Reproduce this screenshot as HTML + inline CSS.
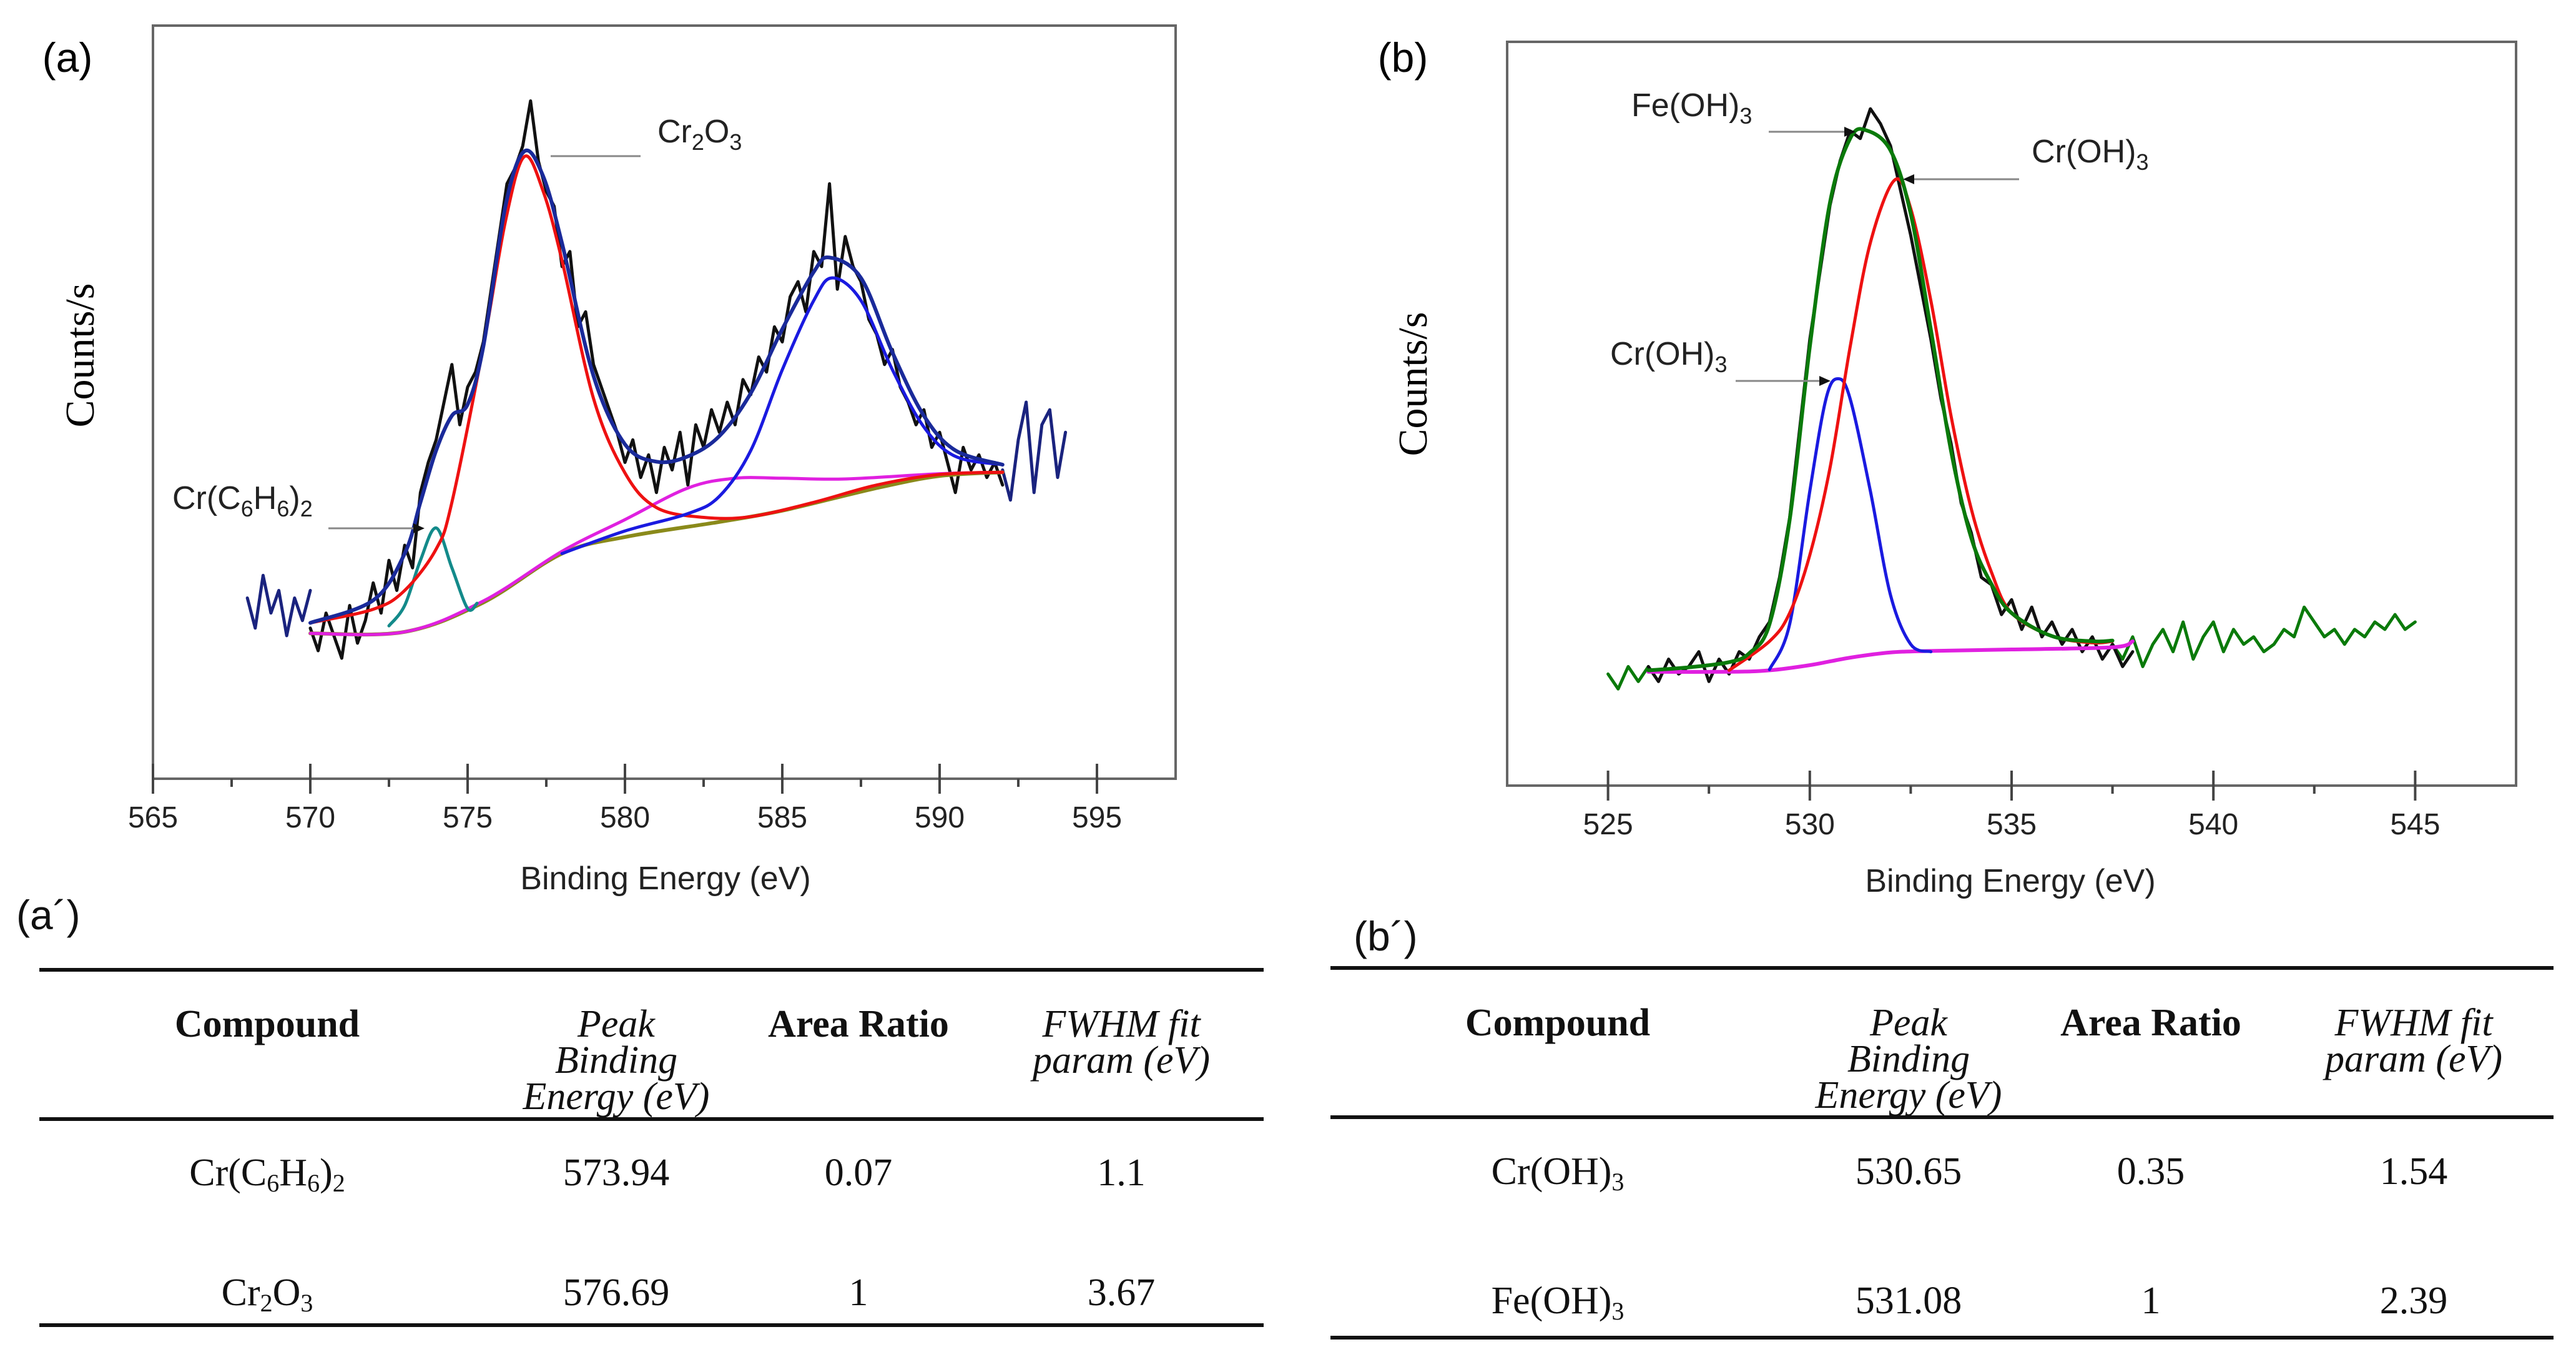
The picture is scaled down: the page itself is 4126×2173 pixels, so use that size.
<!DOCTYPE html>
<html><head><meta charset="utf-8">
<style>
html,body{margin:0;padding:0;background:#fff;}
svg{display:block;}
.sans{font-family:"Liberation Sans",sans-serif;}
.serif{font-family:"Liberation Serif",serif;}
</style></head>
<body>
<svg id="fig" width="4126" height="2173" viewBox="0 0 4126 2173" xmlns="http://www.w3.org/2000/svg">
<g id="layer"></g>
<text x="108" y="115" class="sans" font-size="66" text-anchor="middle">(a)</text>
<text x="2247" y="115" class="sans" font-size="66" text-anchor="middle">(b)</text>
<text transform="translate(150,569) rotate(-90)" class="serif" font-size="66" text-anchor="middle">Counts/s</text>
<text transform="translate(2285,615) rotate(-90)" class="serif" font-size="66" text-anchor="middle">Counts/s</text>
<text x="1066" y="1424" class="sans" font-size="52" text-anchor="middle" fill="#222">Binding Energy (eV)</text>
<text x="3220" y="1428" class="sans" font-size="52" text-anchor="middle" fill="#222">Binding Energy (eV)</text>

<g>
<line x1="882" y1="250" x2="1026" y2="250" stroke="#888" stroke-width="3"/>
<text x="1053" y="228" class="sans" font-size="52" fill="#222">Cr<tspan font-size="36" dy="12">2</tspan><tspan dy="-12">O</tspan><tspan font-size="36" dy="12">3</tspan></text>
</g>
<g>
<line x1="526" y1="846" x2="668" y2="846" stroke="#888" stroke-width="3"/>
<polygon points="680,846 662,838 662,854" fill="#111"/>
<text x="276" y="815" class="sans" font-size="52" fill="#222">Cr(C<tspan font-size="36" dy="12">6</tspan><tspan dy="-12">H</tspan><tspan font-size="36" dy="12">6</tspan><tspan dy="-12">)</tspan><tspan font-size="36" dy="12">2</tspan></text>
</g>
<g>
<line x1="2833" y1="211" x2="2960" y2="211" stroke="#888" stroke-width="3"/>
<polygon points="2972,211 2954,203 2954,219" fill="#111"/>
<text x="2613" y="186" class="sans" font-size="52" fill="#222">Fe(OH)<tspan font-size="36" dy="12">3</tspan></text>
</g>
<g>
<line x1="3062" y1="287" x2="3234" y2="287" stroke="#888" stroke-width="3"/>
<polygon points="3048,287 3066,279 3066,295" fill="#111"/>
<text x="3254" y="260" class="sans" font-size="52" fill="#222">Cr(OH)<tspan font-size="36" dy="12">3</tspan></text>
</g>
<g>
<line x1="2780" y1="610" x2="2920" y2="610" stroke="#888" stroke-width="3"/>
<polygon points="2932,610 2914,602 2914,618" fill="#111"/>
<text x="2579" y="584" class="sans" font-size="52" fill="#222">Cr(OH)<tspan font-size="36" dy="12">3</tspan></text>
</g>

<g class="serif" fill="#111">
<text x="26" y="1488" class="sans" font-size="66">(a´)</text>
<rect x="63" y="1550" width="1961" height="6" fill="#111"/>
<rect x="63" y="1789" width="1961" height="6" fill="#111"/>
<rect x="63" y="2119" width="1961" height="6" fill="#111"/>
<g font-size="62" text-anchor="middle">
<text x="428" y="1660" font-weight="bold">Compound</text>
<text x="987" y="1660" font-style="italic">Peak</text>
<text x="987" y="1718" font-style="italic">Binding</text>
<text x="987" y="1776" font-style="italic">Energy (eV)</text>
<text x="1375" y="1660" font-weight="bold">Area Ratio</text>
<text x="1796" y="1660" font-style="italic">FWHM fit</text>
<text x="1796" y="1718" font-style="italic">param (eV)</text>
<text x="428" y="1898">Cr(C<tspan font-size="40" dy="10">6</tspan><tspan dy="-10">H</tspan><tspan font-size="40" dy="10">6</tspan><tspan dy="-10">)</tspan><tspan font-size="40" dy="10">2</tspan></text>
<text x="987" y="1898">573.94</text><text x="1375" y="1898">0.07</text><text x="1796" y="1898">1.1</text>
<text x="428" y="2090">Cr<tspan font-size="40" dy="10">2</tspan><tspan dy="-10">O</tspan><tspan font-size="40" dy="10">3</tspan></text>
<text x="987" y="2090">576.69</text><text x="1375" y="2090">1</text><text x="1796" y="2090">3.67</text>
</g></g>
<g class="serif" fill="#111">
<text x="2168" y="1522" class="sans" font-size="66">(b´)</text>
<rect x="2131" y="1547" width="1959" height="6" fill="#111"/>
<rect x="2131" y="1786" width="1959" height="6" fill="#111"/>
<rect x="2131" y="2139" width="1959" height="6" fill="#111"/>
<g font-size="62" text-anchor="middle">
<text x="2495" y="1658" font-weight="bold">Compound</text>
<text x="3057" y="1658" font-style="italic">Peak</text>
<text x="3057" y="1716" font-style="italic">Binding</text>
<text x="3057" y="1774" font-style="italic">Energy (eV)</text>
<text x="3445" y="1658" font-weight="bold">Area Ratio</text>
<text x="3866" y="1658" font-style="italic">FWHM fit</text>
<text x="3866" y="1716" font-style="italic">param (eV)</text>
<text x="2495" y="1896">Cr(OH)<tspan font-size="40" dy="10">3</tspan></text>
<text x="3057" y="1896">530.65</text><text x="3445" y="1896">0.35</text><text x="3866" y="1896">1.54</text>
<text x="2495" y="2103">Fe(OH)<tspan font-size="40" dy="10">3</tspan></text>
<text x="3057" y="2103">531.08</text><text x="3445" y="2103">1</text><text x="3866" y="2103">2.39</text>
</g></g>
</svg>
<script>
// ---------- Panel (a) data ----------
const aTicks = [565,570,575,580,585,590,595];
const aRawStart = 570, aRawStep = 0.25;
const aRaw = [20,17,22,19,16,23,18,21,26,22,29,25,31,28,38,42,45,50,55,47,52,54,58,65,72,79,81,84,90,82,78,76,68,70,60,62,55,52,49,46,42,45,40,43,38,44,41,46,39,47,44,49,46,50,47,53,51,56,54,60,58,64,66,62,70,68,79,65,72,68,66,61,59,55,57,52,50,47,49,44,46,42,38,44,41,43,40,42,39];
const aNavyLeftStart = 568;
const aNavyLeft = [24,20,27,22,25,19,24,21,25];
const aNavyRightStart = 592;
const aNavyRight = [41,37,45,50,38,47,49,40,46];
const aBgX = [570,573,575.5,578,580,583,585,588,590,592];
const aBgY = [19.3,19.5,23.4,29.9,32.1,34.1,35.6,38.6,40.2,40.7];
const aMagX = [570,573,575.5,578,580,582,583.5,585,587,590,592];
const aMagY = [19.3,19.5,23.6,30.2,34.4,38.6,39.9,39.9,39.8,40.5,40.7];
const aRedX = [570,572,573,574,574.5,575.5,576.2,576.8,577.4,578,579,580,581,582.5,584,586,588,590,592];
const aRedY = [20.7,22.5,25,30.5,36.7,57.4,74,82.6,78,68.8,50.5,40.6,36.0,34.7,34.8,36.7,39.0,40.4,40.7];
const aTealX = [572.5,573,573.5,574,574.5,575,575.3];
const aTealY = [20.3,23,29,33.3,28,22.6,23.3];
const aBlueX = [578,580,582,583,584,585,586,586.6,587.5,588.5,589.5,590.5,592];
const aBlueY = [29.9,32.9,35.2,37.5,43.6,54.3,63.5,66.5,63.5,54.3,46.7,42.8,41.7];
const aEnvX = [570,572,573,573.5,574,574.5,575,575.5,576.2,576.8,577.4,578,579,580,581,582,583,584,585,586,586.5,587.5,588.5,589.5,590.5,592];
const aEnvY = [20.7,23.7,29.9,36.7,43.6,48.2,49.7,57.4,76,83.3,80,71.1,53.5,44.4,42.1,42.8,45.5,51.2,59.7,67.3,69.2,66.5,56.6,48.2,43.6,41.7];

// ---------- Panel (b) data ----------
const bTicks = [525,530,535,540,545];
const bRawStart = 526, bRawStep = 0.25;
const bRaw = [16,14,17,15,16,18,14,17,15,18,17,20,22,28,36,48,60,69,78,84,88,87,91,89,86,80,74,67,60,52,46,38,34,28,27,23,25,21,24,20,22,19,21,18,20,17,19,16,18];
const bGreenLeftStart = 525;
const bGreenLeft = [15,13,16,14,16];
const bGreenRightStart = 537.5;
const bGreenRight = [19,17,20,16,19,21,18,22,17,20,22,18,21,19,20,18,19,21,20,24,22,20,21,19,21,20,22,21,23,21,22];
const bMagX = [526,528,529,530,531,532,533,535,537.5,538];
const bMagY = [15.3,15.3,15.5,16.2,17.2,17.9,18.1,18.3,18.6,19.4];
const bBlueX = [529,529.5,530,530.4,530.7,531,531.5,532,532.5,533];
const bBlueY = [15.6,21.7,39.6,52.0,54.7,52.0,39.6,25.6,19.0,18.0];
const bRedX = [528,529,529.5,530,530.5,531,531.5,532.1,532.5,533,533.5,534,534.5,535,536,537,537.5];
const bRedY = [15.5,19.4,23.2,31.0,42.7,59.0,73.0,81.4,77.6,65.2,49.7,37.2,28.7,23.2,20.1,19.2,19.4];
const bEnvX = [526,527,528,528.5,529,529.5,530,530.5,531,531.4,532,532.5,533,533.5,534,534.5,535,536,537,537.5];
const bEnvY = [15.5,15.9,16.6,17.8,21.7,35.7,59.0,78.4,87.0,88.1,85.4,76.9,61.3,45.0,33.3,27.1,23.2,20.1,19.4,19.5];

const NS = "http://www.w3.org/2000/svg";
const layer = document.getElementById('layer');

function makeAxes(x0,x1,y0,y1,e0,e1){
  return {
    sx: e => x0 + (e-e0)/(e1-e0)*(x1-x0),
    sy: v => y1 - v/100*(y1-y0),
    x0:x0,x1:x1,y0:y0,y1:y1
  };
}
const A = makeAxes(245,1883,41,1247,565,597.5);
const B = makeAxes(2414,4030,67,1258,522.5,547.5);

function frame(ax, name){
  const r = document.createElementNS(NS,'rect');
  r.setAttribute('x',ax.x0); r.setAttribute('y',ax.y0);
  r.setAttribute('width',ax.x1-ax.x0); r.setAttribute('height',ax.y1-ax.y0);
  r.setAttribute('fill','none'); r.setAttribute('stroke','#666'); r.setAttribute('stroke-width','4');
  
  
  layer.appendChild(r);
}
function ticks(ax, vals, name){
  const g = document.createElementNS(NS,'g');
  
  
  for (let i=0;i<vals.length;i++){
    const x = ax.sx(vals[i]);
    const l = document.createElementNS(NS,'line');
    l.setAttribute('x1',x); l.setAttribute('x2',x);
    l.setAttribute('y1',ax.y1-24); l.setAttribute('y2',ax.y1+24);
    l.setAttribute('stroke','#444'); l.setAttribute('stroke-width','4');
    g.appendChild(l);
    if (i<vals.length-1){
      const m = document.createElementNS(NS,'line');
      const xm = ax.sx((vals[i]+vals[i+1])/2);
      m.setAttribute('x1',xm); m.setAttribute('x2',xm);
      m.setAttribute('y1',ax.y1); m.setAttribute('y2',ax.y1+13);
      m.setAttribute('stroke','#444'); m.setAttribute('stroke-width','4');
      g.appendChild(m);
    }
    const t = document.createElementNS(NS,'text');
    t.setAttribute('x',x); t.setAttribute('y',ax.y1+78);
    t.setAttribute('text-anchor','middle'); t.setAttribute('font-size','48');
    t.setAttribute('font-family','"Liberation Sans", sans-serif'); t.setAttribute('fill','#222');
    
    
    t.textContent = vals[i];
    g.appendChild(t);
  }
  layer.appendChild(g);
}
function addPath(d,color,w,name){
  const p = document.createElementNS(NS,'path');
  p.setAttribute('d',d); p.setAttribute('fill','none'); p.setAttribute('stroke',color);
  p.setAttribute('stroke-width',w); p.setAttribute('stroke-linejoin','round'); p.setAttribute('stroke-linecap','round');
  
  
  layer.appendChild(p);
}
// straight segments (raw data)
function lineXY(ax, xs, ys, color, w, name){
  let d='';
  for (let i=0;i<xs.length;i++) d += (i?'L':'M') + ax.sx(xs[i]).toFixed(1)+','+ax.sy(ys[i]).toFixed(1);
  addPath(d,color,w,name);
}
// smooth Catmull-Rom (fitted curves)
function smoothXY(ax, xs, ys, color, w, name){
  const P = xs.map((x,i)=>[ax.sx(x), ax.sy(ys[i])]);
  let d = 'M'+P[0][0].toFixed(1)+','+P[0][1].toFixed(1);
  for (let i=0;i<P.length-1;i++){
    const p0=P[Math.max(0,i-1)], p1=P[i], p2=P[i+1], p3=P[Math.min(P.length-1,i+2)];
    const c1=[p1[0]+(p2[0]-p0[0])/6, p1[1]+(p2[1]-p0[1])/6];
    const c2=[p2[0]-(p3[0]-p1[0])/6, p2[1]-(p3[1]-p1[1])/6];
    d += 'C'+c1[0].toFixed(1)+','+c1[1].toFixed(1)+' '+c2[0].toFixed(1)+','+c2[1].toFixed(1)+' '+p2[0].toFixed(1)+','+p2[1].toFixed(1);
  }
  addPath(d,color,w,name);
}
function lineSeq(ax, start, step, ys, color, w, name){
  const xs = ys.map((_,i)=>start+i*step);
  lineXY(ax, xs, ys, color, w, name);
}

// Panel a
frame(A,'plot-frame-a');
ticks(A,aTicks,'x-axis-a');
lineSeq(A,aNavyLeftStart,aRawStep,aNavyLeft,'#1a237e',5,'raw-data-left-a');
lineSeq(A,aNavyRightStart,aRawStep,aNavyRight,'#1a237e',5,'raw-data-right-a');
lineSeq(A,aRawStart,aRawStep,aRaw,'#111',5,'raw-data-a');
smoothXY(A,aBgX,aBgY,'#8a8a1a',6,'background-a');
smoothXY(A,aMagX,aMagY,'#e020e0',5,'baseline-magenta-a');
smoothXY(A,aTealX,aTealY,'#138a8a',5,'fit-cr-c6h6-a');
smoothXY(A,aRedX,aRedY,'#ee1111',5,'fit-cr2o3-a');
smoothXY(A,aBlueX,aBlueY,'#1a1ae0',5,'fit-satellite-a');
smoothXY(A,aEnvX,aEnvY,'#1a2a9a',6,'fit-envelope-a');

// Panel b
frame(B,'plot-frame-b');
ticks(B,bTicks,'x-axis-b');
lineSeq(B,bGreenLeftStart,bRawStep,bGreenLeft,'#0a7a0a',5,'raw-data-left-b');
lineSeq(B,bGreenRightStart,bRawStep,bGreenRight,'#0a7a0a',5,'raw-data-right-b');
lineSeq(B,bRawStart,bRawStep,bRaw,'#111',5,'raw-data-b');
smoothXY(B,bMagX,bMagY,'#e020e0',6,'baseline-b');
smoothXY(B,bBlueX,bBlueY,'#1a1ae0',5,'fit-croh3-b');
smoothXY(B,bRedX,bRedY,'#ee1111',5,'fit-feoh3-b');
smoothXY(B,bEnvX,bEnvY,'#0a7a0a',6,'fit-envelope-b');
</script>
</body></html>
